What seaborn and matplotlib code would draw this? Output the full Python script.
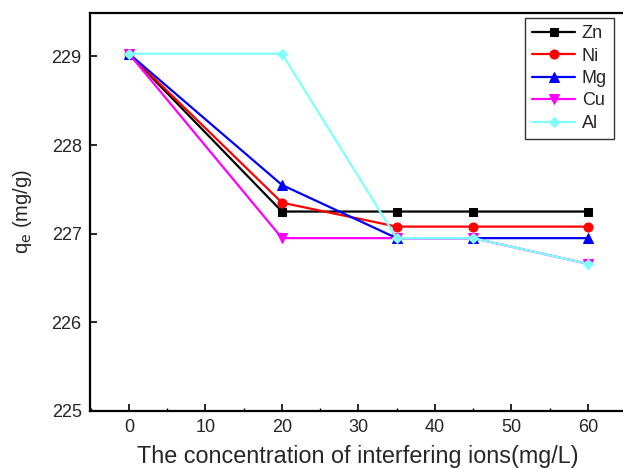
import matplotlib
matplotlib.use("Agg")
import matplotlib.pyplot as plt
from matplotlib.ticker import MultipleLocator
import seaborn as sns
import pandas as pd

conc = [0, 20, 35, 45, 60]
zn = [229.03, 227.25, 227.25, 227.25, 227.25]
ni = [229.03, 227.35, 227.08, 227.08, 227.08]
mg = [229.03, 227.55, 226.95, 226.95, 226.95]
cu = [229.03, 226.95, 226.95, 226.95, 226.66]
al = [229.03, 229.03, 226.95, 226.95, 226.66]

series = [("Zn", zn, "black", "s", 6),
          ("Ni", ni, "red", "o", 6.5),
          ("Mg", mg, "blue", "^", 7),
          ("Cu", cu, "magenta", "v", 7),
          ("Al", al, "#80ffff", "D", 5.5)]

sns.set_style("white")
plt.rcParams["font.family"] = ["Liberation Sans", "DejaVu Sans"]

fig = plt.figure(figsize=(6.23, 4.69), dpi=100)
ax = fig.add_axes([0.1445, 0.1237, 0.8604, 0.8486])

for name, vals, color, marker, ms in series:
    df = pd.DataFrame({"x": conc, "y": vals})
    sns.lineplot(data=df, x="x", y="y", ax=ax, color=color, marker=marker,
                 markersize=ms, markeredgecolor=color, linewidth=1.6, label=name)

ax.set_xlim(-5.1, 65)
ax.set_ylim(225, 229.49)
ax.set_xticks([0, 10, 20, 30, 40, 50, 60])
ax.set_yticks([225, 226, 227, 228, 229])
ax.xaxis.set_minor_locator(MultipleLocator(5))
ax.tick_params(which="major", direction="in", length=5, width=1.2, labelsize=13,
               pad=6, top=False, bottom=True, left=True, right=False, color="black")
ax.tick_params(which="minor", axis="x", direction="in", length=2, width=1,
               bottom=True, top=False, color="black")
for s in ax.spines.values():
    s.set_color("black")
    s.set_linewidth(1.6)
ax.set_xlabel("The concentration of interfering ions(mg/L)", fontsize=16.8, labelpad=6)
ax.set_ylabel(r"q$_{\mathrm{e}}$ (mg/g)", fontsize=14.5, labelpad=13)

leg = ax.legend(loc="upper right", bbox_to_anchor=(0.9776, 0.9874), borderaxespad=0,
                fontsize=13, frameon=True, fancybox=False, edgecolor="black",
                handlelength=2.4, borderpad=0.4, labelspacing=0.3, handletextpad=0.35)
leg.get_frame().set_linewidth(1.0)

fig.savefig("out.png", dpi=100)
